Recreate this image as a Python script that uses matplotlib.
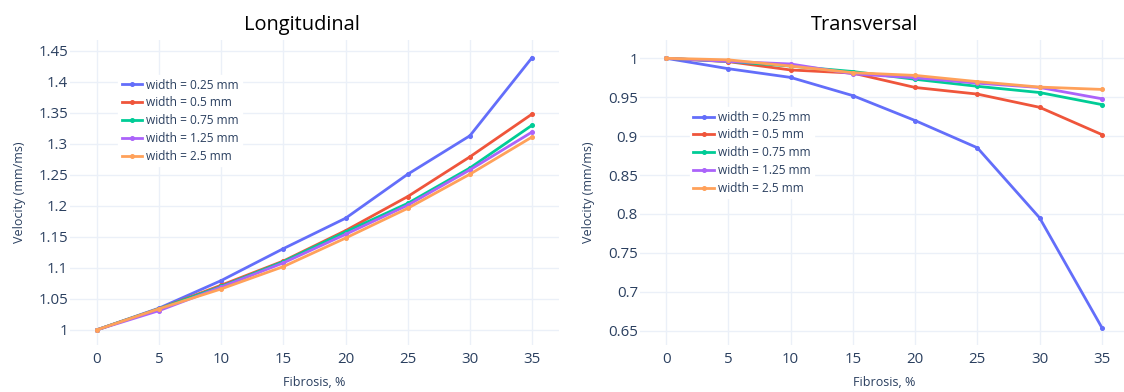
import numpy as np
import matplotlib.pyplot as plt

# Fibrosis levels and conduction velocity per fibre width
fibrosis = [0, 5, 10, 15, 20, 25, 30, 35]
widths = ["0.25", "0.5", "0.75", "1.25", "2.5"]

long_025 = [1.0, 1.035, 1.0795, 1.131, 1.180, 1.251, 1.313, 1.439]
long_05 = [1.0, 1.034, 1.072, 1.111, 1.160, 1.215, 1.279, 1.348]
long_075 = [1.0, 1.034, 1.070, 1.110, 1.158, 1.204, 1.261, 1.330]
long_125 = [1.0, 1.031, 1.069, 1.108, 1.154, 1.201, 1.258, 1.319]
long_25 = [1.0, 1.034, 1.066, 1.102, 1.148, 1.196, 1.251, 1.311]

trans_025 = [1.0, 0.9866, 0.9754, 0.952, 0.920, 0.885, 0.795, 0.654]
trans_05 = [1.0, 0.9957, 0.985, 0.981, 0.9625, 0.954, 0.937, 0.902]
trans_075 = [1.0, 0.996, 0.990, 0.983, 0.973, 0.964, 0.956, 0.9405]
trans_125 = [1.0, 0.996, 0.9927, 0.980, 0.975, 0.968, 0.9625, 0.948]
trans_25 = [1.0, 0.998, 0.990, 0.9815, 0.978, 0.970, 0.963, 0.960]

longitudinal = [long_025, long_05, long_075, long_125, long_25]
transversal = [trans_025, trans_05, trans_075, trans_125, trans_25]

colors = ["#636efa", "#EF553B", "#00cc96", "#ab63fa", "#FFA15A"]
text_col = "#2a3f5f"
grid_col = "#EBF0F8"

W, H = 1124, 392
fig = plt.figure(figsize=(W / 100, H / 100), dpi=100)
plt.rcParams["font.family"] = ["Open Sans", "DejaVu Sans"]


def px_axes(x0, x1, y0, y1):
    return fig.add_axes([x0 / W, 1 - y1 / H, (x1 - x0) / W, (y1 - y0) / H])


def style(ax, xlim, ylim, yticks, ylabels):
    ax.set_xlim(*xlim)
    ax.set_ylim(*ylim)
    ax.set_xticks(fibrosis)
    ax.set_yticks(yticks)
    ax.set_yticklabels(ylabels)
    for s in ax.spines.values():
        s.set_visible(False)
    ax.grid(True, color=grid_col, lw=1.0)
    ax.set_axisbelow(True)
    ax.tick_params(length=0, labelsize=10.8, colors=text_col)
    ax.tick_params(axis="y", pad=1.5)
    ax.tick_params(axis="x", pad=5)


def draw(ax, series, anchor):
    for vals, w, c in zip(series, widths, colors):
        ax.plot(fibrosis, vals, color=c, lw=2.0, marker="o", ms=2.6,
                label=f"width = {w} mm")
    leg = ax.legend(loc="upper left", bbox_to_anchor=anchor, borderaxespad=0,
                    frameon=True, fancybox=False, fontsize=8.6, numpoints=1,
                    handlelength=1.7, handletextpad=0.35, labelspacing=0.4,
                    borderpad=0.3)
    leg.get_frame().set_facecolor("white")
    leg.get_frame().set_edgecolor("white")
    leg.get_frame().set_alpha(1)
    for t in leg.get_texts():
        t.set_color(text_col)


# Longitudinal
ax1 = px_axes(70, 559, 40, 345)
lyt = [1.0, 1.05, 1.1, 1.15, 1.2, 1.25, 1.3, 1.35, 1.4, 1.45]
style(ax1, (-2.17, 37.17), (0.9755, 1.4675), lyt,
      ["1", "1.05", "1.1", "1.15", "1.2", "1.25", "1.3", "1.35", "1.4", "1.45"])
draw(ax1, longitudinal, (0.098, 0.885))

# Transversal
ax2 = px_axes(640, 1128, 40, 345)
tyt = [0.65, 0.7, 0.75, 0.8, 0.85, 0.9, 0.95, 1.0]
style(ax2, (-2.1, 37.1), (0.6316, 1.0235), tyt,
      ["0.65", "0.7", "0.75", "0.8", "0.85", "0.9", "0.95", "1"])
draw(ax2, transversal, (0.102, 0.780))

# Titles and axis labels
fig.text(301.5 / W, 1 - 25 / H, "Longitudinal", ha="center", va="center",
         fontsize=14.4, color="black")
fig.text(864.5 / W, 1 - 25 / H, "Transversal", ha="center", va="center",
         fontsize=14.4, color="black")
for xc in (314.5, 884):
    fig.text(xc / W, 1 - 383 / H, "Fibrosis, %", ha="center", va="center",
             fontsize=9, color=text_col)
for xc in (19.6, 588.6):
    fig.text(xc / W, 1 - 192 / H, "Velocity (mm/ms)", ha="center", va="center",
             rotation=90, fontsize=9, color=text_col)

fig.savefig("out.png", dpi=100, facecolor="white")
